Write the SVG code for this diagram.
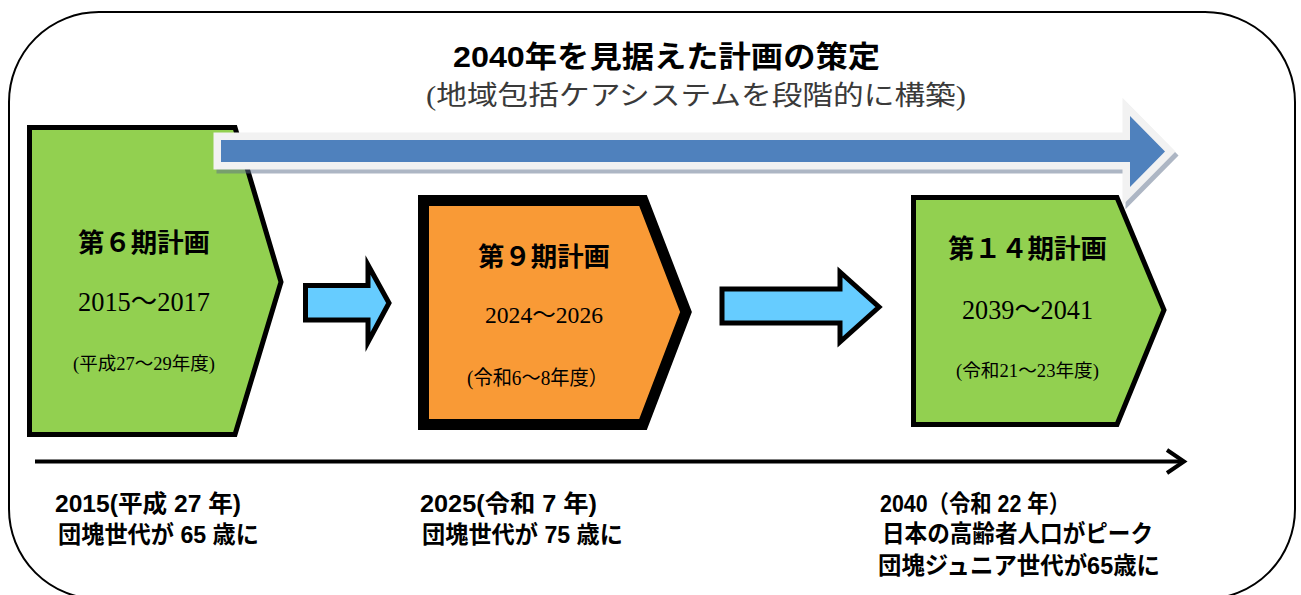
<svg xmlns="http://www.w3.org/2000/svg" width="1301" height="595" viewBox="0 0 1301 595">
<defs>
<style>
.sans{font-family:"Liberation Sans","Noto Sans CJK JP",sans-serif;fill:#000;}
.b{font-weight:bold;}
.serif{font-family:"Liberation Serif","Noto Sans CJK JP",serif;fill:#000;}
.box{stroke:#000;stroke-linejoin:miter;stroke-miterlimit:10;}
.small{fill:#66CCFF;stroke:#000;stroke-width:5;stroke-linejoin:miter;stroke-miterlimit:10;}
.tl{stroke:#000;stroke-width:4;fill:none;}
</style>
</defs>
<rect width="1301" height="595" fill="#fff"/>
<g id="frame">
<rect x="9" y="12" width="1286" height="587" rx="90" ry="90" fill="none" stroke="#000" stroke-width="2"/>
</g>
<g id="title">
<text class="sans b" x="453" y="67" font-size="30" textLength="427" lengthAdjust="spacingAndGlyphs">2040年を見据えた計画の策定</text>
<text class="serif" x="426" y="105" font-size="27" style="fill:#3a3a3a" textLength="540" lengthAdjust="spacingAndGlyphs">(地域包括ケアシステムを段階的に構築)</text>
</g>
<g id="plan6">
<polygon class="box" points="29.5,127.5 235,127.5 281,282 235,434.5 29.5,434.5" fill="#92D050" stroke-width="5"/>
<text class="sans b" x="78" y="252" font-size="26" textLength="132" lengthAdjust="spacingAndGlyphs">第６期計画</text>
<text class="serif" x="78" y="311" font-size="27" textLength="132" lengthAdjust="spacingAndGlyphs">2015～2017</text>
<text class="serif" x="73" y="370" font-size="18" textLength="142" lengthAdjust="spacingAndGlyphs">(平成27～29年度)</text>
</g>
<g id="strategy-arrow">
<g transform="translate(3,4)" opacity="0.5">
<polygon points="221,140 1130,140 1130,116 1165,151.5 1130,187 1130,162 221,162" fill="#5E6F8A" stroke="#5E6F8A" stroke-width="15" stroke-linejoin="miter" stroke-miterlimit="10"/>
</g>
<polygon points="221,140 1130,140 1130,116 1165,151.5 1130,187 1130,162 221,162" fill="#F2F2F2" stroke="#F2F2F2" stroke-width="15" stroke-linejoin="miter" stroke-miterlimit="10"/>
<polygon points="221,140 1130,140 1130,116 1165,151.5 1130,187 1130,162 221,162" fill="#4F81BD"/>
</g>
<g id="plan9">
<polygon class="box" points="423.5,200.5 643,200.5 686,312 643,424.5 423.5,424.5" fill="#F99A36" stroke-width="11"/>
<text class="sans b" x="478" y="266" font-size="26" textLength="132" lengthAdjust="spacingAndGlyphs">第９期計画</text>
<text class="serif" x="485" y="323" font-size="24" textLength="118" lengthAdjust="spacingAndGlyphs">2024～2026</text>
<text class="serif" x="467" y="385" font-size="20" textLength="141" lengthAdjust="spacingAndGlyphs">(令和6～8年度）</text>
</g>
<g id="plan14">
<polygon class="box" points="913.5,197.5 1117,197.5 1164,310 1117,424.5 913.5,424.5" fill="#92D050" stroke-width="5"/>
<text class="sans b" x="948" y="258" font-size="26" textLength="159" lengthAdjust="spacingAndGlyphs">第１４期計画</text>
<text class="serif" x="962" y="319" font-size="27" textLength="131" lengthAdjust="spacingAndGlyphs">2039～2041</text>
<text class="serif" x="956" y="377" font-size="18" textLength="143" lengthAdjust="spacingAndGlyphs">(令和21～23年度)</text>
</g>
<g id="connectors">
<polygon class="small" points="305.5,285.5 368,285.5 368,265 389,303 368,342 368,320 305.5,320"/>
<polygon class="small" points="722,289 840,289 840,272 879,307 840,342 840,323 722,323"/>
<line class="tl" x1="35" y1="461.5" x2="1183" y2="461.5"/>
<polyline class="tl" points="1167,450 1184,461.5 1167,473"/>
</g>
<g id="milestone-2015">
<text class="sans b" x="55" y="512" font-size="24" textLength="186" lengthAdjust="spacingAndGlyphs">2015(平成 27 年)</text>
<text class="sans b" x="58" y="543" font-size="24" textLength="201" lengthAdjust="spacingAndGlyphs">団塊世代が 65 歳に</text>
</g>
<g id="milestone-2025">
<text class="sans b" x="420" y="512" font-size="24" textLength="177" lengthAdjust="spacingAndGlyphs">2025(令和 7 年)</text>
<text class="sans b" x="422" y="543" font-size="24" textLength="201" lengthAdjust="spacingAndGlyphs">団塊世代が 75 歳に</text>
</g>
<g id="milestone-2040">
<text class="sans b" x="880" y="512" font-size="24" textLength="190" lengthAdjust="spacingAndGlyphs">2040（令和 22 年）</text>
<text class="sans b" x="882" y="542" font-size="24" textLength="271" lengthAdjust="spacingAndGlyphs">日本の高齢者人口がピーク</text>
<text class="sans b" x="878" y="574" font-size="24" textLength="282" lengthAdjust="spacingAndGlyphs">団塊ジュニア世代が65歳に</text>
</g>
</svg>
